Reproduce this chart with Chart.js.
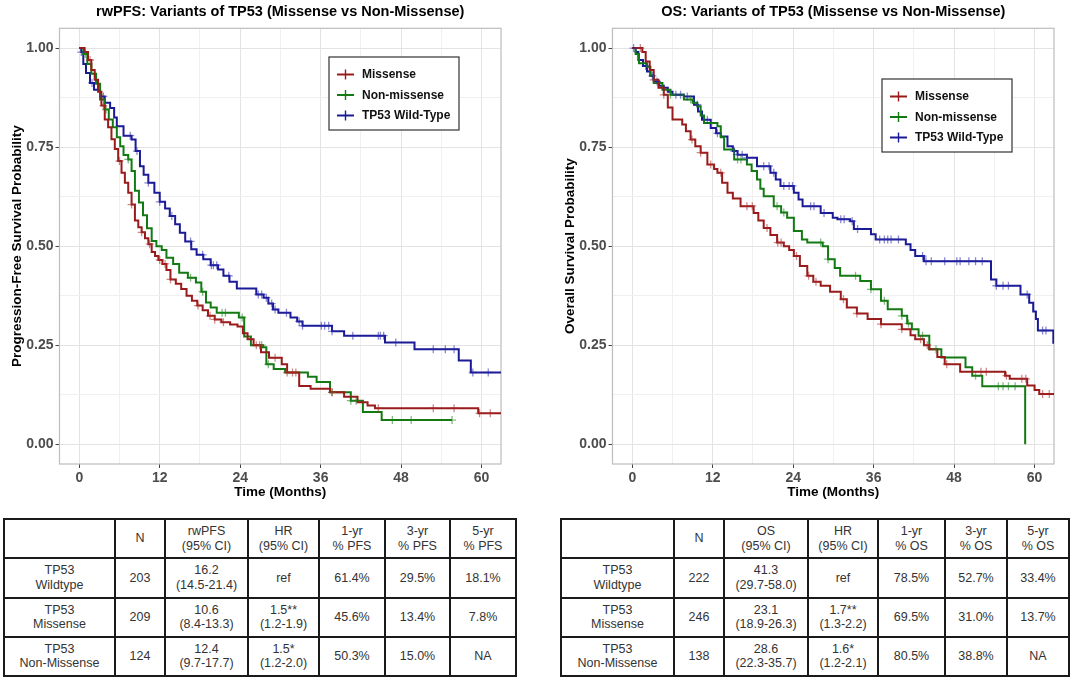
<!DOCTYPE html>
<html>
<head>
<meta charset="utf-8">
<script src="https://cdn.jsdelivr.net/npm/chart.js@4.4.1/dist/chart.umd.min.js"></script>
<style>
  body { margin: 0; background: #fff; font-family: "Liberation Sans", Arial, sans-serif; }
  #page { position: relative; width: 1080px; height: 683px; overflow: hidden; background: #fff; }
  canvas.plot { position: absolute; top: 0; }
  table.km { position: absolute; top: 518px; height: 159px; border-collapse: collapse; table-layout: fixed; font-size: 12.5px; color: #333; }
  table.km td { border: 2px solid #1a1a1a; text-align: center; vertical-align: middle; line-height: 14.5px; padding: 0; }
</style>
</head>
<body>
<div id="page">
  <canvas id="pfsChart" class="plot" width="525" height="505" style="left:0px"></canvas>
  <canvas id="osChart" class="plot" width="525" height="505" style="left:553px"></canvas>
  <table id="pfsTable" class="km" style="left:3px; width:512px"></table>
  <table id="osTable" class="km" style="left:560px; width:508px"></table>
</div>
<script>
const FONT = '"Liberation Sans", Arial, sans-serif';

// axis ticks
const xTicks = [0, 6, 12, 18, 24, 30, 36, 42, 48, 54, 60];
const xMajor = [0, 12, 24, 36, 48, 60];
const xTickLabels = ['0', '12', '24', '36', '48', '60'];
const yTicks = [0, 0.125, 0.25, 0.375, 0.5, 0.625, 0.75, 0.875, 1];
const yMajor = [0, 0.25, 0.5, 0.75, 1];
const yTickLabels = ['0.00', '0.25', '0.50', '0.75', '1.00'];

const groups = ['Missense', 'Non-missense', 'TP53 Wild-Type'];
const lineColors = ['#991a1a', '#137a13', '#1a1a96'];
const censorColors = ['rgba(170,40,40,0.55)', 'rgba(30,130,30,0.55)', 'rgba(40,40,170,0.55)'];

// rwPFS curves: [months, survival]
const pfsMissense = [[0,1],[0.8,0.99],[1.3,0.97],[1.8,0.945],[2.3,0.92],[2.8,0.89],[3.3,0.855],[3.8,0.82],[4.3,0.8],[4.8,0.77],
  [5.3,0.745],[5.8,0.715],[6.3,0.685],[6.8,0.66],[7.3,0.635],[7.8,0.605],[8.3,0.565],[8.8,0.548],[9.3,0.535],[9.8,0.52],
  [10.3,0.505],[10.8,0.485],[11.3,0.475],[11.8,0.465],[12.4,0.455],[13.0,0.44],[13.6,0.416],[14.4,0.405],[15.2,0.392],[16.0,0.375],
  [16.8,0.362],[17.6,0.35],[18.4,0.338],[19.2,0.324],[20.2,0.315],[21.2,0.308],[22.5,0.302],[23.6,0.297],[24.4,0.28],[25.1,0.265],
  [26.0,0.25],[27.1,0.232],[28.3,0.218],[30.2,0.202],[31.0,0.181],[32.8,0.147],[34.5,0.14],[37.4,0.131],[39.5,0.12],[41.5,0.106],
  [43.0,0.098],[44.1,0.091],[59.5,0.078],[63.5,0.078]];
const pfsNonMissense = [[0,1],[0.6,0.985],[1.2,0.96],[1.8,0.935],[2.5,0.91],[3.1,0.87],[3.8,0.845],[4.4,0.82],[5.0,0.8],[5.6,0.775],
  [6.1,0.752],[6.6,0.73],[7.3,0.719],[7.8,0.69],[8.3,0.64],[8.9,0.61],[9.5,0.578],[10.1,0.545],[10.8,0.513],[11.5,0.5],
  [12.3,0.49],[13.0,0.471],[14.0,0.455],[14.9,0.433],[16.2,0.42],[17.4,0.408],[18.2,0.385],[18.9,0.358],[19.6,0.345],[20.5,0.332],
  [23.8,0.32],[24.6,0.272],[25.6,0.25],[27.4,0.245],[27.9,0.202],[29.0,0.19],[30.7,0.181],[34.1,0.17],[35.4,0.157],[37.4,0.131],
  [40.5,0.11],[42.3,0.081],[45.1,0.061],[55.6,0.061]];
const pfsWildType = [[0,1],[0.3,0.99],[0.6,0.96],[1.0,0.937],[1.6,0.912],[2.2,0.895],[3.1,0.878],[3.8,0.862],[4.6,0.849],[5.2,0.825],
  [5.6,0.803],[6.6,0.779],[7.8,0.769],[8.4,0.74],[9.05,0.702],[9.6,0.68],[10.3,0.66],[11.2,0.635],[12.0,0.612],[12.8,0.595],
  [13.5,0.576],[14.3,0.555],[15.0,0.534],[15.8,0.512],[16.7,0.492],[17.5,0.478],[18.5,0.467],[19.6,0.452],[20.7,0.441],[21.5,0.425],
  [22.4,0.41],[23.5,0.393],[26.4,0.378],[27.5,0.37],[28.2,0.355],[28.9,0.34],[29.7,0.332],[31.5,0.32],[32.5,0.31],[33.3,0.299],
  [37.7,0.285],[39.5,0.274],[45.6,0.257],[50.0,0.24],[56.6,0.211],[58.4,0.181],[63.5,0.181]];

// rwPFS censoring times (months)
const pfsMissenseCens = [1.6, 3.6, 6.0, 7.8, 9.3, 10.5, 12.0, 12.8, 13.6, 17.7, 19.5, 20.2, 21.5, 26.4, 26.9, 29.2, 31.0, 31.8, 32.3, 37.7, 44.6, 52.8, 55.9, 59.7, 61.3];
const pfsNonMissenseCens = [0.9, 4.0, 7.3, 16.6, 18.4, 21.3, 21.8, 24.3, 27.2, 28.2, 37.7, 40.5, 41.3, 46.7, 49.5, 55.6];
const pfsWildTypeCens = [0.3, 1.9, 3.6, 7.6, 8.6, 10.3, 12.0, 13.8, 16.6, 18.4, 19.7, 20.0, 20.5, 22.3, 26.7, 27.2, 27.9, 28.7, 29.2, 30.9, 32.8, 33.3, 36.1, 36.6, 37.2, 37.7, 40.8, 44.6, 44.9, 45.4, 47.2, 52.8, 54.6, 55.9, 58.7, 61.0];

// OS curves: [months, survival]
const osMissense = [[0,1],[1.5,0.99],[2.0,0.966],[2.6,0.945],[3.2,0.92],[3.9,0.9],[4.7,0.882],[5.3,0.85],[6.0,0.82],[7.45,0.807],
  [8.0,0.79],[8.7,0.769],[9.4,0.752],[10.2,0.736],[11.2,0.706],[12.2,0.695],[12.7,0.685],[13.4,0.66],[14.2,0.635],[15.0,0.62],
  [16.15,0.601],[18.1,0.584],[18.8,0.565],[19.6,0.546],[20.6,0.528],[21.6,0.509],[22.6,0.5],[23.4,0.49],[24.1,0.475],[25.0,0.45],
  [26.1,0.425],[27.0,0.41],[28.1,0.4],[29.5,0.385],[31.1,0.366],[32.0,0.345],[33.5,0.33],[35.1,0.316],[37.1,0.303],[40.2,0.29],
  [41.5,0.275],[42.2,0.265],[43.5,0.25],[44.3,0.24],[45.5,0.22],[46.6,0.202],[48.9,0.183],[55.6,0.173],[56.3,0.165],[58.9,0.148],
  [60.0,0.137],[60.7,0.127],[63.5,0.127]];
const osNonMissense = [[0,1],[0.5,0.985],[1.0,0.962],[2.2,0.953],[2.7,0.93],[3.2,0.912],[4.5,0.895],[5.7,0.882],[7.7,0.87],[9.0,0.862],
  [9.7,0.853],[10.2,0.83],[10.7,0.811],[12.7,0.803],[13.2,0.775],[13.7,0.744],[15.2,0.719],[17.1,0.706],[17.8,0.69],[18.6,0.668],
  [19.1,0.645],[19.6,0.626],[21.1,0.601],[22.2,0.585],[23.1,0.572],[24.1,0.538],[25.3,0.517],[26.1,0.509],[28.4,0.5],[29.2,0.467],
  [30.2,0.445],[31.0,0.425],[34.0,0.412],[35.6,0.391],[37.1,0.362],[38.1,0.341],[40.2,0.324],[41.0,0.305],[41.7,0.29],[42.7,0.274],
  [44.3,0.24],[46.1,0.219],[49.7,0.194],[50.7,0.173],[52.2,0.146],[58.6,0]];
const osWildType = [[0,1],[0.5,0.99],[0.9,0.97],[1.6,0.955],[2.2,0.941],[2.7,0.93],[3.2,0.916],[4.0,0.905],[4.7,0.9],[5.3,0.89],
  [6.0,0.882],[7.7,0.878],[9.2,0.857],[9.8,0.84],[10.4,0.819],[11.7,0.798],[12.5,0.785],[13.2,0.777],[14.2,0.752],[15.0,0.74],
  [15.7,0.731],[17.1,0.723],[18.6,0.702],[20.6,0.685],[21.4,0.668],[22.1,0.652],[24.1,0.635],[24.8,0.618],[25.4,0.601],[28.1,0.584],
  [29.9,0.572],[30.6,0.568],[32.5,0.563],[33.05,0.543],[35.6,0.53],[36.3,0.517],[40.8,0.505],[41.5,0.49],[42.2,0.475],[43.5,0.462],
  [53.5,0.416],[54.3,0.4],[57.9,0.378],[59.2,0.357],[59.8,0.335],[60.2,0.316],[60.5,0.287],[62.8,0.256],[63.5,0.256]];

// OS censoring times (months)
const osMissenseCens = [1.2, 3.2, 4.7, 8.9, 10.2, 11.7, 13.2, 17.1, 17.9, 20.1, 21.7, 22.2, 24.5, 26.3, 27.4, 31.5, 33.5, 37.1, 40.2, 43.0, 44.0, 46.9, 52.0, 52.8, 55.8, 58.1, 58.7, 61.2, 62.2];
const osNonMissenseCens = [5.7, 8.7, 15.7, 16.2, 21.6, 22.6, 28.1, 29.2, 33.3, 35.6, 37.6, 40.2, 41.2, 43.3, 45.3, 51.2, 54.6, 55.3, 56.1, 57.1];
const osWildTypeCens = [0.2, 2.0, 3.0, 3.7, 6.5, 7.2, 8.2, 9.7, 11.2, 12.7, 15.2, 15.7, 16.4, 17.1, 19.6, 20.4, 21.1, 22.6, 23.4, 23.9, 26.6, 27.1, 28.6, 31.1, 31.6, 32.8, 33.6, 36.9, 37.6, 38.1, 38.6, 39.7, 43.3, 43.8, 44.6, 46.6, 48.4, 48.9, 50.2, 51.2, 52.2, 54.3, 55.3, 56.1, 58.9, 61.2, 61.7];

// summary tables
const pfsHeader = ['', 'N', 'rwPFS\n(95% CI)', 'HR\n(95% CI)', '1-yr\n% PFS', '3-yr\n% PFS', '5-yr\n% PFS'];
const pfsRows = [
  ['TP53\nWildtype', '203', '16.2\n(14.5-21.4)', 'ref', '61.4%', '29.5%', '18.1%'],
  ['TP53\nMissense', '209', '10.6\n(8.4-13.3)', '1.5**\n(1.2-1.9)', '45.6%', '13.4%', '7.8%'],
  ['TP53\nNon-Missense', '124', '12.4\n(9.7-17.7)', '1.5*\n(1.2-2.0)', '50.3%', '15.0%', 'NA']
];
const osHeader = ['', 'N', 'OS\n(95% CI)', 'HR\n(95% CI)', '1-yr\n% OS', '3-yr\n% OS', '5-yr\n% OS'];
const osRows = [
  ['TP53\nWildtype', '222', '41.3\n(29.7-58.0)', 'ref', '78.5%', '52.7%', '33.4%'],
  ['TP53\nMissense', '246', '23.1\n(18.9-26.3)', '1.7**\n(1.3-2.2)', '69.5%', '31.0%', '13.7%'],
  ['TP53\nNon-Missense', '138', '28.6\n(22.3-35.7)', '1.6*\n(1.2-2.1)', '80.5%', '38.8%', 'NA']
];

function stepAt(curve, t) {
  let s = curve[0][1];
  for (const [ct, cs] of curve) {
    if (ct <= t) s = cs; else break;
  }
  return s;
}

function isMajor(list, v) {
  return list.findIndex(m => Math.abs(m - v) < 1e-6);
}

const panelBorder = {
  id: 'panelBorder',
  beforeDatasetsDraw(chart) {
    const { ctx, chartArea: a } = chart;
    ctx.save();
    ctx.strokeStyle = '#bdbdbd';
    ctx.lineWidth = 1.2;
    ctx.strokeRect(a.left, a.top, a.right - a.left, a.bottom - a.top);
    ctx.restore();
  }
};

const kmLegend = {
  id: 'kmLegend',
  afterDraw(chart, args, opts) {
    const ctx = chart.ctx;
    const x = opts.left, y = opts.top, w = opts.width, h = opts.height;
    ctx.save();
    ctx.fillStyle = '#fff';
    ctx.fillRect(x, y, w, h);
    ctx.strokeStyle = '#333';
    ctx.lineWidth = 1.2;
    ctx.strokeRect(x, y, w, h);
    ctx.font = 'bold 12px ' + FONT;
    ctx.textBaseline = 'middle';
    groups.forEach((g, i) => {
      const cy = y + 17.5 + i * 20.5;
      ctx.strokeStyle = lineColors[i];
      ctx.lineWidth = 2;
      ctx.beginPath();
      ctx.moveTo(x + 8, cy);
      ctx.lineTo(x + 25, cy);
      ctx.stroke();
      ctx.lineWidth = 1.4;
      ctx.beginPath();
      ctx.moveTo(x + 16.5, cy - 5);
      ctx.lineTo(x + 16.5, cy + 5);
      ctx.stroke();
      ctx.fillStyle = '#111';
      ctx.fillText(g, x + 33, cy + 0.5);
    });
    ctx.restore();
  }
};

function drawPanel(p) {
  const datasets = [];
  p.curves.forEach((c, i) => {
    datasets.push({
      type: 'line',
      label: groups[i],
      data: c.map(([x, y]) => ({ x, y })),
      borderColor: lineColors[i],
      borderWidth: 2,
      stepped: 'before',
      pointRadius: 0,
      fill: false,
      order: 2
    });
  });
  p.censors.forEach((c, i) => {
    datasets.push({
      type: 'scatter',
      label: groups[i] + ' (censored)',
      data: c.map(t => ({ x: t, y: stepAt(p.curves[i], t) })),
      borderColor: censorColors[i],
      backgroundColor: censorColors[i],
      pointStyle: 'cross',
      pointRadius: 4,
      borderWidth: 1.3,
      showLine: false,
      order: 1
    });
  });

  new Chart(document.getElementById(p.canvas), {
    type: 'line',
    data: { datasets },
    plugins: [panelBorder, kmLegend],
    options: {
      responsive: false,
      animation: false,
      events: [],
      layout: { padding: { left: 0, right: 24, top: 0, bottom: 0 } },
      plugins: {
        legend: { display: false },
        tooltip: { enabled: false },
        title: {
          display: true,
          text: p.title,
          fullSize: false,
          color: '#000',
          font: { family: FONT, size: 14.5, weight: 'bold' },
          padding: { top: 3.3, bottom: 7.6 }
        },
        kmLegend: { left: 329, top: p.legendTop, width: 130, height: 73 }
      },
      scales: {
        x: {
          type: 'linear',
          min: -2.95,
          max: 62.9,
          afterBuildTicks: ax => { ax.ticks = xTicks.map(v => ({ value: v })); },
          afterFit: ax => { ax.height = 41; },
          border: { display: false },
          grid: {
            color: ctx => (ctx.tick && isMajor(xMajor, ctx.tick.value) >= 0) ? '#e3e3e3' : '#f0f0f0',
            tickColor: ctx => (ctx.tick && isMajor(xMajor, ctx.tick.value) >= 0) ? '#444' : 'rgba(0,0,0,0)',
            tickLength: 4
          },
          ticks: {
            autoSkip: false,
            maxRotation: 0,
            padding: 2,
            color: '#4d4d4d',
            font: { family: FONT, size: 14, weight: 'bold' },
            callback: v => { const k = isMajor(xMajor, v); return k >= 0 ? xTickLabels[k] : ''; }
          },
          title: {
            display: true,
            text: 'Time (Months)',
            color: '#000',
            font: { family: FONT, size: 13.5, weight: 'bold' },
            padding: { top: 0, bottom: 4.2 }
          }
        },
        y: {
          type: 'linear',
          min: -0.05,
          max: 1.05,
          afterBuildTicks: ax => { ax.ticks = yTicks.map(v => ({ value: v })); },
          afterFit: ax => { ax.width = 59.5; },
          border: { display: false },
          grid: {
            color: ctx => (ctx.tick && isMajor(yMajor, ctx.tick.value) >= 0) ? '#e3e3e3' : '#f0f0f0',
            tickColor: ctx => (ctx.tick && isMajor(yMajor, ctx.tick.value) >= 0) ? '#444' : 'rgba(0,0,0,0)',
            tickLength: 4
          },
          ticks: {
            autoSkip: false,
            padding: 2,
            color: '#4d4d4d',
            font: { family: FONT, size: 14, weight: 'bold' },
            callback: v => { const k = isMajor(yMajor, v); return k >= 0 ? yTickLabels[k] : ''; }
          },
          title: {
            display: true,
            text: p.yTitle,
            color: '#000',
            font: { family: FONT, size: 13.5, weight: 'bold' },
            padding: { top: 9, bottom: 0 }
          }
        }
      }
    }
  });
}

function buildTable(id, header, rows, colWidths) {
  const cell = s => s.split('\n').join('<br>');
  let html = '<colgroup>' + colWidths.map(w => `<col style="width:${w}px">`).join('') + '</colgroup>';
  html += '<tr>' + header.map(h => `<td>${cell(h)}</td>`).join('') + '</tr>';
  rows.forEach(r => {
    html += '<tr>' + r.map(c => `<td>${cell(c)}</td>`).join('') + '</tr>';
  });
  document.getElementById(id).innerHTML = html;
}

drawPanel({
  canvas: 'pfsChart',
  title: 'rwPFS: Variants of TP53 (Missense vs Non-Missense)',
  yTitle: 'Progression-Free Survival Probability',
  curves: [pfsMissense, pfsNonMissense, pfsWildType],
  censors: [pfsMissenseCens, pfsNonMissenseCens, pfsWildTypeCens],
  legendTop: 57
});

drawPanel({
  canvas: 'osChart',
  title: 'OS: Variants of TP53 (Missense vs Non-Missense)',
  yTitle: 'Overall Survival Probability',
  curves: [osMissense, osNonMissense, osWildType],
  censors: [osMissenseCens, osNonMissenseCens, osWildTypeCens],
  legendTop: 79
});

buildTable('pfsTable', pfsHeader, pfsRows, [111, 50, 83, 71, 66, 65, 66]);
buildTable('osTable', osHeader, osRows, [113, 50, 84, 70, 67, 62, 62]);
</script>
</body>
</html>
